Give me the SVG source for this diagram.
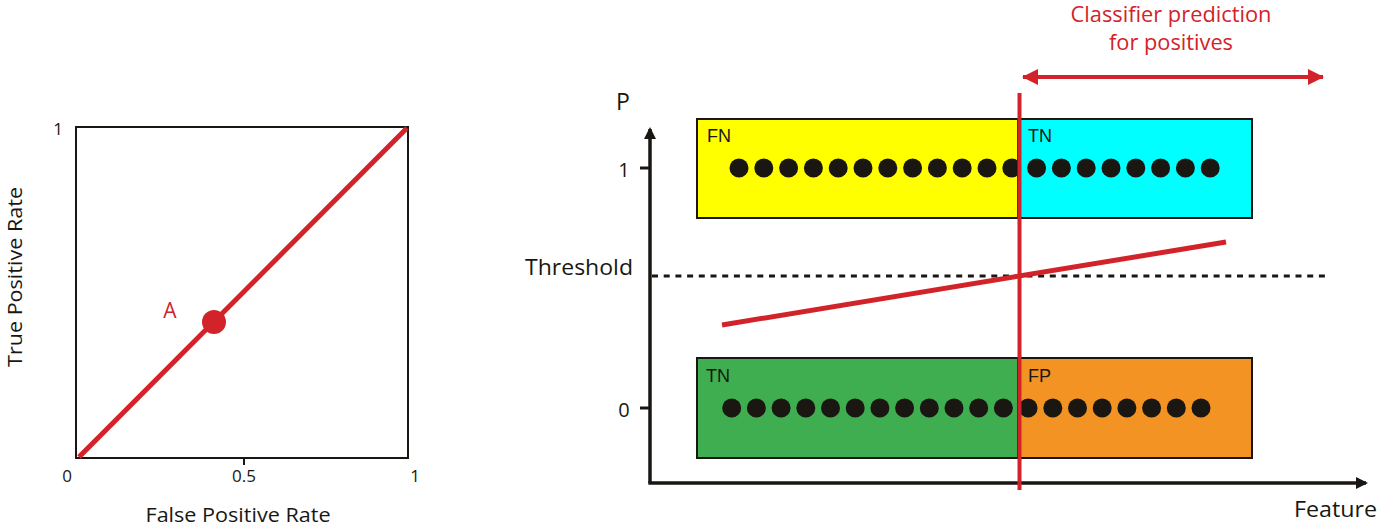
<svg xmlns="http://www.w3.org/2000/svg" width="1400" height="530" viewBox="0 0 1400 530">
<style>
.t{font-family:"Open Sans","Noto Sans",sans-serif;fill:#1a1713}
.a{font-family:"Liberation Sans",Arial,sans-serif;fill:#1a1713;font-size:18px}
.box{stroke:#1a1713;stroke-width:2}
.dot{fill:#1a1713}
.ax{stroke:#1a1713;stroke-width:3.5;fill:none}
</style>
<defs>
<marker id="ah" markerWidth="14" markerHeight="14" refX="10" refY="6" orient="auto" markerUnits="userSpaceOnUse">
<path d="M0,0 L12,6 L0,12 Z" fill="#1a1713"/>
</marker>
<marker id="rh" markerWidth="18" markerHeight="18" refX="15" refY="8" orient="auto-start-reverse" markerUnits="userSpaceOnUse">
<path d="M0,0 L16,8 L0,16 Z" fill="#d2232a"/>
</marker>
</defs>

<!-- Left ROC plot -->
<g id="roc">
<rect x="76" y="127" width="332" height="331" fill="none" class="box"/>
<line x1="244" y1="458" x2="244" y2="465" stroke="#1a1713" stroke-width="2"/>
<line x1="79" y1="457" x2="407" y2="128" stroke="#d2232a" stroke-width="5"/>
<circle cx="214" cy="322" r="12" fill="#d2232a"/>
<text x="170" y="318" class="t" font-size="21" text-anchor="middle" style="fill:#d2232a">A</text>
<text x="58" y="135" class="t" font-size="17" text-anchor="middle">1</text>
<text x="67" y="482" class="t" font-size="17" text-anchor="middle">0</text>
<text x="244" y="482" class="t" font-size="17" text-anchor="middle">0.5</text>
<text x="415" y="482" class="t" font-size="17" text-anchor="middle">1</text>
<text x="238" y="522" class="t" font-size="20" text-anchor="middle" textLength="185" lengthAdjust="spacingAndGlyphs">False Positive Rate</text>
<text transform="translate(22,277) rotate(-90)" class="t" font-size="20" text-anchor="middle" textLength="180" lengthAdjust="spacingAndGlyphs">True Positive Rate</text>
</g>

<!-- Boxes -->
<g id="fn-box">
<rect x="697" y="119" width="321" height="99" fill="#ffff00" class="box"/>
<text x="707" y="142" class="a">FN</text>
</g>
<g id="tn-top-box">
<rect x="1018" y="119" width="234" height="99" fill="#00ffff" class="box"/>
<text x="1028" y="142" class="a">TN</text>
</g>
<g id="tn-bottom-box">
<rect x="697" y="358" width="321" height="100" fill="#3fae50" class="box"/>
<text x="706" y="382" class="a">TN</text>
</g>
<g id="fp-box">
<rect x="1018" y="358" width="234" height="100" fill="#f39324" class="box"/>
<text x="1028" y="382" class="a">FP</text>
</g>

<!-- Dots -->
<g id="dots-top" class="dot">
<circle cx="739" cy="168" r="9.5"/><circle cx="763.8" cy="168" r="9.5"/><circle cx="788.6" cy="168" r="9.5"/><circle cx="813.4" cy="168" r="9.5"/><circle cx="838.2" cy="168" r="9.5"/><circle cx="863" cy="168" r="9.5"/><circle cx="887.8" cy="168" r="9.5"/><circle cx="912.6" cy="168" r="9.5"/><circle cx="937.4" cy="168" r="9.5"/><circle cx="962.2" cy="168" r="9.5"/><circle cx="987" cy="168" r="9.5"/><circle cx="1011.8" cy="168" r="9.5"/><circle cx="1036.6" cy="168" r="9.5"/><circle cx="1061.4" cy="168" r="9.5"/><circle cx="1086.2" cy="168" r="9.5"/><circle cx="1111" cy="168" r="9.5"/><circle cx="1135.8" cy="168" r="9.5"/><circle cx="1160.6" cy="168" r="9.5"/><circle cx="1185.4" cy="168" r="9.5"/><circle cx="1210.2" cy="168" r="9.5"/>
</g>
<g id="dots-bottom" class="dot">
<circle cx="731.7" cy="408" r="9.5"/><circle cx="756.4" cy="408" r="9.5"/><circle cx="781.1" cy="408" r="9.5"/><circle cx="805.8" cy="408" r="9.5"/><circle cx="830.5" cy="408" r="9.5"/><circle cx="855.2" cy="408" r="9.5"/><circle cx="879.9" cy="408" r="9.5"/><circle cx="904.6" cy="408" r="9.5"/><circle cx="929.3" cy="408" r="9.5"/><circle cx="954" cy="408" r="9.5"/><circle cx="978.7" cy="408" r="9.5"/><circle cx="1003.4" cy="408" r="9.5"/><circle cx="1028.1" cy="408" r="9.5"/><circle cx="1052.8" cy="408" r="9.5"/><circle cx="1077.5" cy="408" r="9.5"/><circle cx="1102.2" cy="408" r="9.5"/><circle cx="1126.9" cy="408" r="9.5"/><circle cx="1151.6" cy="408" r="9.5"/><circle cx="1176.3" cy="408" r="9.5"/><circle cx="1201" cy="408" r="9.5"/>
</g>

<!-- Axes and connectors -->
<g id="connectors">
<line x1="650" y1="483" x2="650" y2="129" class="ax" marker-end="url(#ah)"/>
<line x1="648.3" y1="483" x2="1366" y2="483" class="ax" marker-end="url(#ah)"/>
<line x1="640" y1="168" x2="650" y2="168" stroke="#1a1713" stroke-width="3"/>
<line x1="640" y1="408" x2="650" y2="408" stroke="#1a1713" stroke-width="3"/>
<line x1="652" y1="276" x2="1325" y2="276" stroke="#1a1713" stroke-width="3" stroke-dasharray="6,5.7"/>
<line x1="722" y1="325" x2="1226" y2="242" stroke="#d2232a" stroke-width="5"/>
<line x1="1019.5" y1="93" x2="1019.5" y2="490" stroke="#d2232a" stroke-width="4"/>
<line x1="1023" y1="77" x2="1323" y2="77" stroke="#d2232a" stroke-width="4" marker-start="url(#rh)" marker-end="url(#rh)"/>
</g>

<!-- Right plot labels -->
<g id="labels">
<text x="623" y="110" class="t" font-size="23" text-anchor="middle">P</text>
<text x="624" y="177" class="t" font-size="20" text-anchor="middle">1</text>
<text x="624" y="417" class="t" font-size="20" text-anchor="middle">0</text>
<text x="525" y="275" class="t" font-size="21" textLength="108" lengthAdjust="spacingAndGlyphs">Threshold</text>
<text x="1294" y="517" class="t" font-size="21" textLength="83" lengthAdjust="spacingAndGlyphs">Feature</text>
<text x="1171" y="22" class="t" font-size="21" text-anchor="middle" textLength="201" lengthAdjust="spacingAndGlyphs" style="fill:#d2232a">Classifier prediction</text>
<text x="1171" y="50" class="t" font-size="21" text-anchor="middle" textLength="124" lengthAdjust="spacingAndGlyphs" style="fill:#d2232a">for positives</text>
</g>
</svg>
